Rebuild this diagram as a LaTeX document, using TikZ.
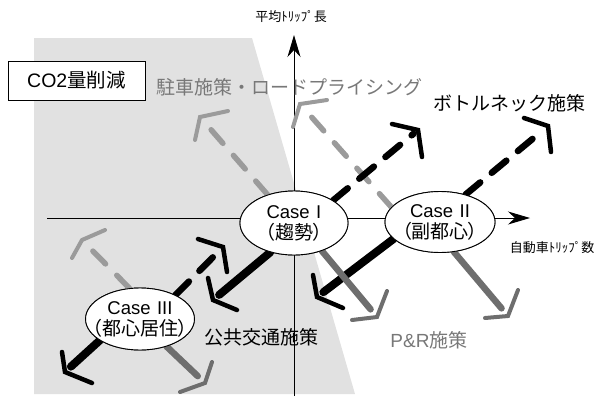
\documentclass[tikz,border=0pt]{standalone}
\usepackage{fontspec}
\setmainfont{Noto Sans CJK JP}
\newfontfamily\lat{Liberation Sans}
\newfontfamily\jpp{Noto Sans CJK JP}[RawFeature=+palt]
\usetikzlibrary{arrows.meta,calc,shapes.geometric}
\definecolor{bgfill}{RGB}{225,225,225}
\definecolor{lgray}{RGB}{155,155,155}
\definecolor{mgray}{RGB}{110,110,110}
\definecolor{tgray}{RGB}{120,120,120}
\tikzset{
  axisline/.style={line width=0.9pt, -{Stealth[length=22pt,width=13pt,inset=7pt]}},
  casenode/.style={ellipse, draw=black, line width=0.9pt, fill=white, inner sep=0pt, align=center,
    font=\jpp\fontsize{19}{21}\selectfont},
  kdash/.style={line width=6.5pt, black, dash pattern=on 19pt off 15pt, line cap=round, shorten >=6pt},
  gdash/.style={line width=5.5pt, lgray, dash pattern=on 18pt off 16pt, line cap=round, shorten >=6pt},
  ksolid/.style={line width=8pt, black, line cap=round, shorten >=8pt},
  msolid/.style={line width=6.5pt, mgray, line cap=round, shorten >=10pt},
  chevk/.style={line width=4.5pt, black, line cap=round, line join=miter},
  chevg/.style={line width=4pt, lgray, line cap=round, line join=miter},
  chevm/.style={line width=4pt, mgray, line cap=round, line join=miter},
  biglabel/.style={inner sep=0pt, font=\fontsize{19}{22}\selectfont},
  axislabel/.style={inner sep=0pt, font=\fontsize{13}{15}\selectfont},
  caseone/.style={casenode, minimum width=108pt, minimum height=64pt},
  casetwo/.style={casenode, minimum width=110pt, minimum height=61pt},
  casethree/.style={casenode, inner xsep=-9pt, inner ysep=-1pt, minimum width=105pt, minimum height=62pt}
}
\newcommand{\casetxt}[2]{{\lat\fontsize{18.5}{21}\selectfont Case\hspace{0.35em}#1}\\#2}
\begin{document}
\begin{tikzpicture}[x=1pt,y=-1pt]
\useasboundingbox (0,0) rectangle (600,397);
% background region
\fill[bgfill] (34,38) -- (252,38) -- (355,394) -- (34,394) -- cycle;
% axes
\coordinate (ybot) at (294,396);
\coordinate (ytop) at (294,35);
\coordinate (xleft) at (47,218);
\coordinate (xright) at (530,218);
\draw[axisline] (ybot) -- (ytop);
\draw[axisline] (xleft) -- (xright);
% case nodes (placed first for anchors)
\node[caseone] (c1) at (294,223) {\casetxt{I}{（趨勢）}};
\node[casetwo] (c2) at (440,222) {\casetxt{II}{（副都心）}};
\node[casethree] (c3) at (140,319) {\casetxt{III}{（都心居住）}};
% tips
\coordinate (t1) at (200,117);
\coordinate (t2) at (300,104);
\coordinate (t3) at (418,130);
\coordinate (t4) at (548,126);
\coordinate (t5) at (377,317);
\coordinate (t6) at (508,316);
\coordinate (t7) at (317,297);
\coordinate (t8) at (213,300);
\coordinate (t9) at (223,247);
\coordinate (t10) at (82,240);
\coordinate (t11) at (65,372);
\coordinate (t12) at (205,383);
% gray dashed
\draw[gdash] (c1.133) -- (t1);
\draw[chevg] (228,111) -- (t1) -- (195,140);
\draw[gdash] (c2.163) -- (t2);
\draw[chevg] (327,100) -- (t2) -- (293,127);
\draw[gdash] (c3.109) -- (t10);
\draw[chevg] (105,230) -- (t10) -- (72,258);
% black dashed
\draw[kdash] (c1.30) -- (t3);
\draw[chevk] (392,124) -- (t3) -- (422,157);
\draw[kdash] (c2.47) -- (t4);
\draw[chevk] (524,118) -- (t4) -- (551,152);
\draw[kdash] (c3.34) -- (t9);
\draw[chevk] (198,239) -- (t9) -- (227,272);
% black solid
\draw[ksolid] (c2.200) -- (t7);
\draw[chevk] (313,275) -- (t7) -- (343,308);
\draw[ksolid] (c1.231) -- (t8);
\draw[chevk] (208,278) -- (t8) -- (237,310);
\draw[ksolid] (c3.208) -- (t11);
\draw[chevk] (62,352) -- (t11) -- (92,383);
% medium gray solid
\draw[msolid] (c1.315) -- (t5);
\draw[chevm] (352,320) -- (t5) -- (387,291);
\draw[msolid] (c2.295) -- (t6);
\draw[chevm] (485,318) -- (t6) -- (518,290);
\draw[msolid] (c3.314) -- (t12);
\draw[chevm] (180,392) -- (t12) -- (212,362);
% redraw case nodes on top
\node[caseone] at (c1) {\casetxt{I}{（趨勢）}};
\node[casetwo] at (c2) {\casetxt{II}{（副都心）}};
\node[casethree] at (c3) {\casetxt{III}{（都心居住）}};
% labels
\node[draw, fill=white, line width=0.9pt, minimum width=137pt, minimum height=39pt, inner sep=0pt,
  font=\fontsize{19.5}{21}\selectfont] (co2) at (76.5,80.5) {{\lat CO2}量削減};
\node[biglabel, tgray] (lpark) at (289,87) {駐車施策・ロードプライシング};
\node[biglabel] (lbn) at (509.5,103) {ボトルネック施策};
\node[biglabel] (lpt) at (261.5,337) {公共交通施策};
\node[biglabel, tgray] (lpr) at (429,340) {{\lat P\&R}施策};
\node[axislabel] (ylab) at (291,17) {平均ﾄﾘｯﾌﾟ長};
\node[axislabel] (xlab) at (552,248) {自動車ﾄﾘｯﾌﾟ数};
\end{tikzpicture}
\end{document}
